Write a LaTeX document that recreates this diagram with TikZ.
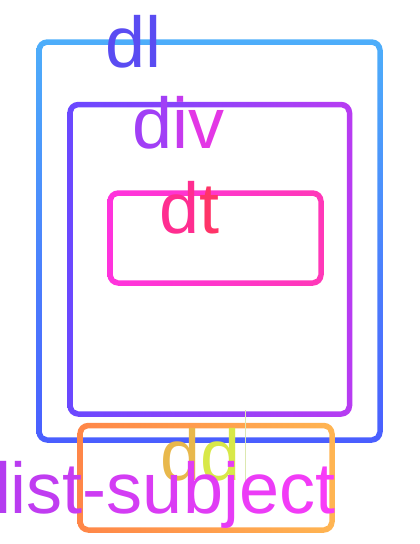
\documentclass[tikz,border=0pt]{standalone}
\usepackage{fontspec}
\setmainfont{Liberation Sans}
\usetikzlibrary{calc}
\definecolor{dlA}{HTML}{4DAEFA}
\definecolor{dlB}{HTML}{4A5EFF}
\definecolor{divA}{HTML}{6A48FF}
\definecolor{divB}{HTML}{B83CF2}
\definecolor{dtA}{HTML}{FF33DD}
\definecolor{dtB}{HTML}{FF38B8}
\definecolor{ddA}{HTML}{FF8648}
\definecolor{ddB}{HTML}{FFB552}
\definecolor{tdl}{HTML}{5A4CF2}
\definecolor{lsA}{HTML}{B43CF0}
\definecolor{lsB}{HTML}{F83CF8}
\definecolor{guide}{HTML}{DDE8B0}
\newcommand\gradring[2]{%
  \shade[even odd rule,#2]
    [rounded corners=11pt] ([shift={(-2.75pt,-2.75pt)}]#1.south west) rectangle ([shift={(2.75pt,2.75pt)}]#1.north east)
    [rounded corners=5.5pt] ([shift={(2.75pt,2.75pt)}]#1.south west) rectangle ([shift={(-2.75pt,-2.75pt)}]#1.north east);}
\newcommand\lc[2]{\textcolor{lsB!#1!lsA}{#2}}
\tikzset{
  frame/.style={draw=none, inner sep=0pt, outer sep=0pt},
  label/.style={inner sep=0pt, outer sep=0pt, anchor=base west, font=\fontsize{72}{72}\selectfont},
}
\begin{document}
\begin{tikzpicture}[x=1pt,y=1pt]
\useasboundingbox (0,0) rectangle (420,-544);
\node[frame, minimum width=341pt, minimum height=398pt] (dl) at (209.5,-241) {};
\node[frame, minimum width=279.5pt, minimum height=309.5pt] (div) at (209.75,-259.25) {};
\node[frame, minimum width=211pt, minimum height=90pt] (dt) at (215.5,-238) {};
\node[frame, minimum width=252pt, minimum height=104.5pt] (dd) at (206,-477.75) {};
\gradring{dl}{top color=dlA, bottom color=dlB}
\gradring{div}{left color=divA, right color=divB}
\gradring{dt}{left color=dtA, right color=dtB}
\gradring{dd}{left color=ddA, right color=ddB}
\coordinate (g1) at (245,-410);
\coordinate (g2) at (245,-498);
\draw[guide, line width=1pt] (g1) -- (g2);
\node[label] (tdl) at (105.5,-67) {\textcolor{tdl}{dl}};
\node[label] (tdiv) at (132.5,-148) {\textcolor{divA!30!divB}{d}\textcolor{divB!80!dtA}{i}\textcolor{divB!40!dtA}{v}};
\node[label] (tdt) at (159.5,-233) {\textcolor[HTML]{FF2D90}{d}\textcolor[HTML]{FF3468}{t}};
\node[label] (tdd) at (160.5,-480) {\textcolor[HTML]{E8B84C}{d}\textcolor[HTML]{D8E848}{d}};
\node[label] (tls) at (-5,-513) {\lc{0}{l}\lc{9}{i}\lc{18}{s}\lc{27}{t}\lc{36}{-}\lc{45}{s}\lc{55}{u}\lc{64}{b}\lc{73}{j}\lc{82}{e}\lc{91}{c}\lc{100}{t}};
\end{tikzpicture}
\end{document}
